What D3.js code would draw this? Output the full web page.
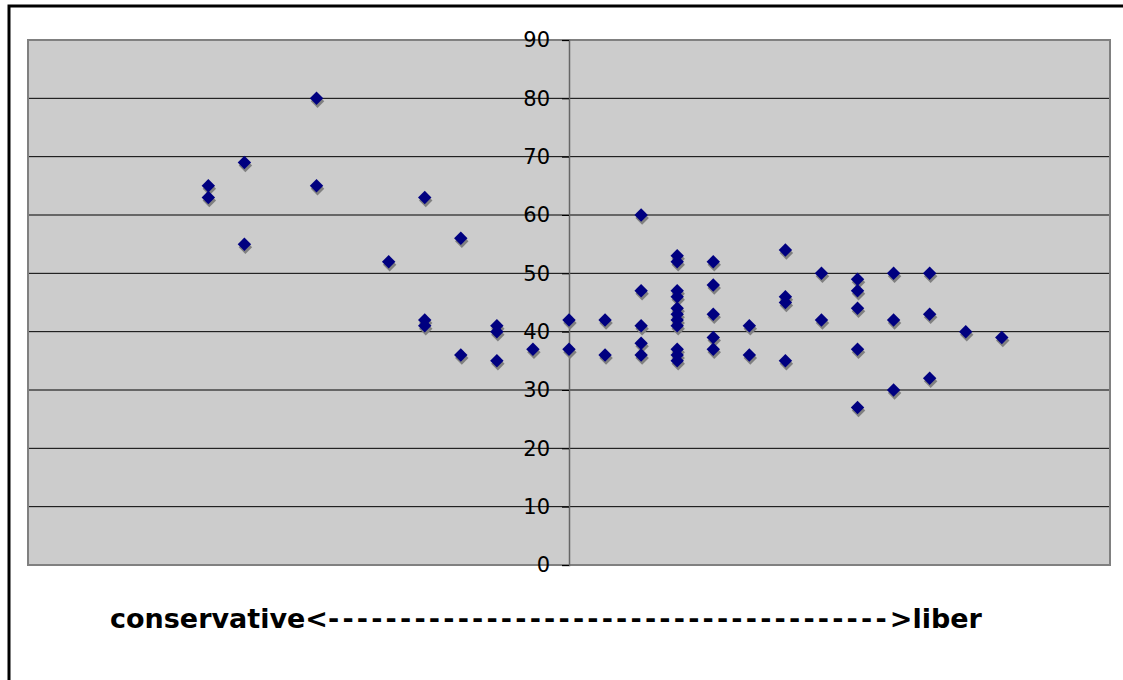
<!DOCTYPE html>
<html>
<head>
<meta charset="utf-8">
<script src="https://cdn.jsdelivr.net/npm/d3@7"></script>
<style>
  body { margin: 0; background: #fff; }
  svg { display: block; }
  .y-axis text { font-family: "DejaVu Sans", Verdana, sans-serif; font-size: 21px; fill: #000; }
</style>
</head>
<body>
<div id="chart"></div>
<script>
// political leaning (x) and score (y) for each respondent
const leaning = [
  -10, -10, -9, -9, -7, -7, -5, -4, -4, -4, -3, -3, -2, -2, -2, -1, 0, 0, 1, 1,
  2, 2, 2, 2, 2, 3, 3, 3, 3, 3, 3, 3, 3, 3, 3, 3, 4, 4, 4, 4, 4, 5, 5,
  6, 6, 6, 6, 7, 7, 8, 8, 8, 8, 8, 9, 9, 9, 10, 10, 10, 11, 12,
];
const score = [
  65, 63, 69, 55, 80, 65, 52, 63, 42, 41, 56, 36, 41, 40, 35, 37, 42, 37, 42, 36,
  60, 47, 41, 38, 36, 53, 52, 47, 46, 44, 43, 42, 41, 37, 36, 35, 52, 48, 43, 39, 37, 41, 36,
  54, 46, 45, 35, 50, 42, 49, 47, 44, 37, 27, 50, 42, 30, 50, 43, 32, 40, 39,
];
const yTicks = [0, 10, 20, 30, 40, 50, 60, 70, 80, 90];
const xTitleLeft = "conservative<";
const xTitleDashes = "---------------------------------------";
const xTitleRight = ">liber";

const width = 1123;
const height = 680;
const plot = { left: 28, top: 40, right: 1110, bottom: 565 };

const points = leaning.map((d, i) => ({ x: d, y: score[i] }));

const svg = d3
  .select("#chart")
  .append("svg")
  .attr("width", width)
  .attr("height", height);

// outer chart frame (cut off on the right and bottom)
svg
  .append("rect")
  .attr("x", 9)
  .attr("y", 6)
  .attr("width", 1300)
  .attr("height", 900)
  .attr("fill", "#fff")
  .attr("stroke", "#000")
  .attr("stroke-width", 3);

const xScale = d3.scaleLinear().domain([-15, 15]).range([plot.left, plot.right]);
const yScale = d3.scaleLinear().domain([0, 90]).range([plot.bottom, plot.top]);

// plot area
svg
  .append("rect")
  .attr("x", plot.left)
  .attr("y", plot.top)
  .attr("width", plot.right - plot.left)
  .attr("height", plot.bottom - plot.top)
  .attr("fill", "#cccccc");

// gridlines
svg
  .append("g")
  .selectAll("line")
  .data(yTicks.filter((d) => d > 0 && d < 90))
  .enter()
  .append("line")
  .attr("x1", plot.left)
  .attr("x2", plot.right)
  .attr("y1", (d) => yScale(d))
  .attr("y2", (d) => yScale(d))
  .attr("stroke", "#000")
  .attr("stroke-width", 1);

// plot border
svg
  .append("rect")
  .attr("x", plot.left)
  .attr("y", plot.top)
  .attr("width", plot.right - plot.left)
  .attr("height", plot.bottom - plot.top)
  .attr("fill", "none")
  .attr("stroke", "#808080")
  .attr("stroke-width", 2);

// y axis at x = 0
const yAxis = svg
  .append("g")
  .attr("class", "y-axis")
  .attr("transform", `translate(${xScale(0)},0)`)
  .call(d3.axisLeft(yScale).tickValues(yTicks).tickSize(7).tickPadding(12));
yAxis.select(".domain").attr("stroke", "#666").attr("stroke-width", 1.5);
yAxis.selectAll(".tick line").attr("stroke", "#000");

// markers with a grey drop shadow
const diamond = d3.symbol().type(d3.symbolDiamond2).size(115);

svg
  .append("g")
  .selectAll("path")
  .data(points)
  .enter()
  .append("path")
  .attr("d", diamond)
  .attr("transform", (d) => `translate(${xScale(d.x) + 1},${yScale(d.y) + 3})`)
  .attr("fill", "#808080");

svg
  .append("g")
  .selectAll("path")
  .data(points)
  .enter()
  .append("path")
  .attr("d", diamond)
  .attr("transform", (d) => `translate(${xScale(d.x)},${yScale(d.y)})`)
  .attr("fill", "#000080");

// x title
const title = svg
  .append("text")
  .attr("x", 110)
  .attr("y", 628)
  .style("font-family", "'DejaVu Sans', Verdana, sans-serif")
  .style("font-size", "27px")
  .style("font-weight", "bold")
  .attr("fill", "#000");
title.append("tspan").text(xTitleLeft);
title.append("tspan").style("letter-spacing", "3.2px").text(xTitleDashes);
title.append("tspan").text(xTitleRight);
</script>
</body>
</html>
